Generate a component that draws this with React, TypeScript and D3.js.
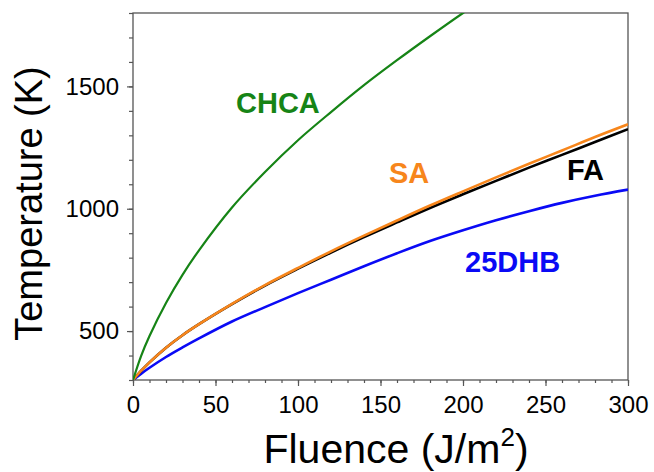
import React, { useEffect, useRef } from "react";
import * as d3 from "d3";

// fluence grid (J/m^2)
const fluence = [0, 5, 10, 20, 30, 40, 60, 80, 100, 120, 140, 160, 180, 200, 220, 240, 260, 280, 300];

// temperatures (K)
const chca = [300, 400, 480, 615, 730, 830, 1005, 1150, 1280, 1395, 1505, 1607, 1705, 1800, 1890, null, null, null, null];
const sa = [300, 338, 372, 432, 483, 528, 611, 688, 758, 826, 890, 952, 1013, 1071, 1128, 1184, 1238, 1293, 1345];
const fa = [300, 338, 372, 432, 483, 528, 610, 686, 755, 821, 884, 944, 1003, 1059, 1114, 1168, 1220, 1273, 1325];
const dhb = [300, 326, 350, 394, 433, 470, 539, 598, 655, 710, 765, 818, 868, 912, 953, 990, 1024, 1053, 1078];

const xTicks = [0, 50, 100, 150, 200, 250, 300];
const yTicks = [500, 1000, 1500];

const series = [
  { name: "25DHB", values: dhb, color: "#0a0af5" },
  { name: "FA", values: fa, color: "#000000" },
  { name: "SA", values: sa, color: "#f7861c" },
  { name: "CHCA", values: chca, color: "#168416" },
];

const labels = [
  { text: "CHCA", x: 236, y: 113, color: "#168416" },
  { text: "SA", x: 389, y: 183, color: "#f7861c" },
  { text: "FA", x: 567, y: 180, color: "#000000" },
  { text: "25DHB", x: 465, y: 272, color: "#0a0af5" },
];

const width = 654;
const height = 472;
const margin = { top: 13, right: 26, bottom: 92, left: 133 };
const font = "'Liberation Sans', Arial, sans-serif";

export default function App() {
  const ref = useRef<SVGSVGElement>(null);

  useEffect(() => {
    const svg = d3.select(ref.current);
    svg.selectAll("*").remove();

    const x = d3.scaleLinear().domain([0, 300]).range([margin.left, width - margin.right]);
    const y = d3.scaleLinear().domain([300, 1800]).range([height - margin.bottom, margin.top]);
    const axisColor = "#555";

    svg
      .append("clipPath")
      .attr("id", "plot")
      .append("rect")
      .attr("x", x(0))
      .attr("y", y(1800))
      .attr("width", x(300) - x(0))
      .attr("height", y(300) - y(1800));

    // frame
    svg
      .append("rect")
      .attr("x", x(0))
      .attr("y", y(1800))
      .attr("width", x(300) - x(0))
      .attr("height", y(300) - y(1800))
      .attr("fill", "none")
      .attr("stroke", axisColor)
      .attr("stroke-width", 1.3);

    // x axis
    const xAxis = svg.append("g").attr("transform", `translate(0,${y(300)})`);
    xAxis
      .call(d3.axisBottom(x).tickValues(d3.range(0, 301, 10)).tickSize(3).tickFormat(() => ""))
      .call((g) => g.select(".domain").remove());
    xAxis.selectAll("line").attr("stroke", axisColor).attr("stroke-width", 1.2);
    const xMajor = svg.append("g").attr("transform", `translate(0,${y(300)})`);
    xMajor
      .call(d3.axisBottom(x).tickValues(xTicks).tickSize(6).tickPadding(10).tickFormat(d3.format("d")))
      .call((g) => g.select(".domain").remove());
    xMajor.selectAll("line").attr("stroke", axisColor).attr("stroke-width", 1.2);
    xMajor.selectAll("text").attr("font-family", font).attr("font-size", 24).attr("fill", "#000");

    // y axis
    const yAxis = svg.append("g").attr("transform", `translate(${x(0)},0)`);
    yAxis
      .call(d3.axisLeft(y).tickValues(d3.range(300, 1801, 100)).tickSize(4).tickFormat(() => ""))
      .call((g) => g.select(".domain").remove());
    yAxis.selectAll("line").attr("stroke", axisColor).attr("stroke-width", 1.2);
    const yMajor = svg.append("g").attr("transform", `translate(${x(0)},0)`);
    yMajor
      .call(d3.axisLeft(y).tickValues(yTicks).tickSize(6).tickPadding(8).tickFormat(d3.format("d")))
      .call((g) => g.select(".domain").remove());
    yMajor.selectAll("line").attr("stroke", axisColor).attr("stroke-width", 1.2);
    yMajor.selectAll("text").attr("font-family", font).attr("font-size", 24).attr("fill", "#000");

    // curves
    const line = d3
      .line<[number, number | null]>()
      .defined((d) => d[1] != null)
      .x((d) => x(d[0]))
      .y((d) => y(d[1] as number))
      .curve(d3.curveCatmullRom.alpha(0.5));

    svg
      .append("g")
      .attr("clip-path", "url(#plot)")
      .selectAll("path")
      .data(series)
      .enter()
      .append("path")
      .attr("d", (s) => line(fluence.map((f, i) => [f, s.values[i]])))
      .attr("fill", "none")
      .attr("stroke", (s) => s.color)
      .attr("stroke-width", (s) => (s.name === "CHCA" ? 2.2 : 2.6));

    // curve labels
    svg
      .append("g")
      .selectAll("text")
      .data(labels)
      .enter()
      .append("text")
      .attr("x", (d) => d.x)
      .attr("y", (d) => d.y)
      .attr("font-family", font)
      .attr("font-weight", "bold")
      .attr("font-size", 29)
      .attr("fill", (d) => d.color)
      .text((d) => d.text);

    // axis titles
    const xt = svg
      .append("text")
      .attr("x", 396)
      .attr("y", 463)
      .attr("text-anchor", "middle")
      .attr("font-family", font)
      .attr("font-size", 41)
      .attr("fill", "#000");
    xt.append("tspan").text("Fluence (J/m");
    xt.append("tspan").attr("dy", -17).attr("font-size", 26).text("2");
    xt.append("tspan").attr("dy", 17).text(")");

    svg
      .append("text")
      .attr("transform", `translate(42,${(342 + 65) / 2}) rotate(-90)`)
      .attr("text-anchor", "middle")
      .attr("font-family", font)
      .attr("font-size", 38)
      .attr("fill", "#000")
      .text("Temperature (K)");
  }, []);

  return (
    <svg
      ref={ref}
      width={width}
      height={height}
      style={{ position: "absolute", left: 0, top: 0, background: "#fff" }}
    ></svg>
  );
}
